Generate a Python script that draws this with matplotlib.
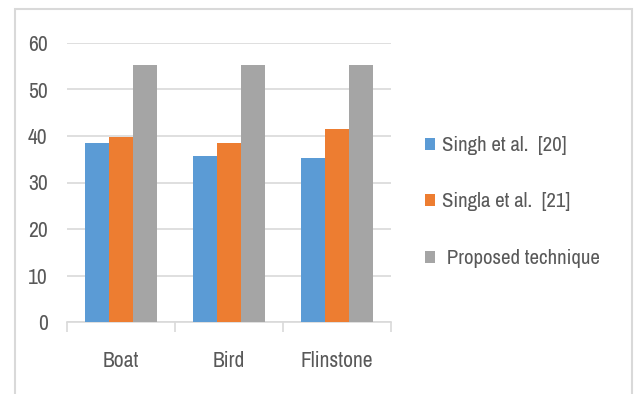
import matplotlib
matplotlib.use("Agg")
import matplotlib.pyplot as plt
import numpy as np
from matplotlib.patches import Rectangle

categories = ["Boat", "Bird", "Flinstone"]
series_names = ["Singh et al.  [20]", "Singla et al.  [21]", " Proposed technique"]
singh = [38.4, 35.7, 35.3]
singla = [39.7, 38.4, 41.6]
proposed = [55.2, 55.2, 55.2]
yticks = [0, 10, 20, 30, 40, 50, 60]

colors = ["#5B9BD5", "#ED7D31", "#A5A5A5"]
text_color = "#595959"
grid_color = "#D9D9D9"

plt.rcParams['font.family'] = ['Archivo Narrow', 'Barlow Semi Condensed', 'DejaVu Sans']

W, H = 637, 394
fig = plt.figure(figsize=(W / 100, H / 100), dpi=100)
ax = fig.add_axes([67 / W, 1 - 322 / H, (391 - 67) / W, (322 - 43) / H])

x = np.arange(len(categories))
w = 0.222
for i, (vals, name) in enumerate(zip([singh, singla, proposed], series_names)):
    ax.bar(x + (i - 1) * w, vals, width=w, color=colors[i], label=name, zorder=3)

ax.set_xlim(-0.5, len(categories) - 0.5)
ax.set_ylim(0, 60)
ax.set_yticks(yticks)
ax.set_yticklabels([str(v) for v in yticks])
ax.set_xticks(x)
ax.set_xticklabels(categories)
ax.set_xticks(np.arange(-0.5, len(categories), 1.0), minor=True)

ax.yaxis.grid(True, color=grid_color, linewidth=1.2, zorder=0)
for s in ["top", "right", "left"]:
    ax.spines[s].set_visible(False)
ax.spines["bottom"].set_color(grid_color)
ax.spines["bottom"].set_linewidth(1.2)

ax.tick_params(axis="y", length=0, pad=14, labelsize=15.5, labelcolor=text_color)
ax.tick_params(axis="x", which="major", length=0, pad=21, labelsize=15.5, labelcolor=text_color)
ax.tick_params(axis="x", which="minor", length=7, width=1.2, color=grid_color)

leg = fig.legend(loc="upper left", bbox_to_anchor=(425 / W, 1 - 136 / H),
                 frameon=False, fontsize=15, labelcolor=text_color,
                 handlelength=0.5, handleheight=0.5, handletextpad=0.3,
                 labelspacing=1.8, borderaxespad=0, borderpad=0)

fig.patches.append(Rectangle((14.5 / W, -0.1), (631.5 - 14.5) / W, 1.1 - 8.5 / H,
                             transform=fig.transFigure, fill=False,
                             edgecolor=grid_color, linewidth=1.5))

fig.savefig("out.png", dpi=100)
